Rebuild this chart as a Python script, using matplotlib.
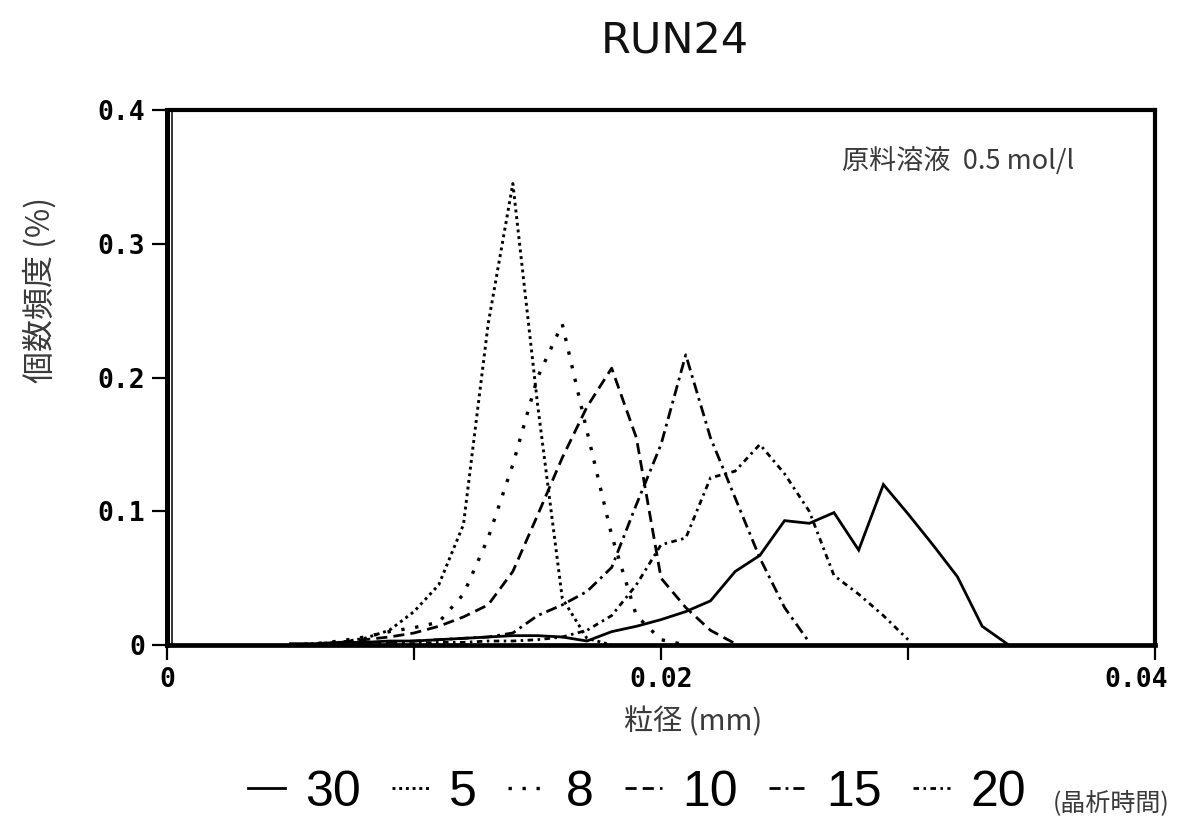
import matplotlib
matplotlib.use("Agg")
import matplotlib.pyplot as plt
import matplotlib.transforms as mtransforms
from matplotlib.lines import Line2D

# particle diameter grid (mm)
diam = [0.005, 0.006, 0.007, 0.008, 0.009, 0.010, 0.011, 0.012, 0.013, 0.014,
        0.015, 0.016, 0.017, 0.018, 0.019, 0.020, 0.021, 0.022, 0.023, 0.024,
        0.025, 0.026, 0.027, 0.028, 0.029, 0.030, 0.031, 0.032, 0.033, 0.034]

# number frequency (%) for each crystallization time
freq_30 = [0.001, 0.001, 0.002, 0.002, 0.003, 0.003, 0.004, 0.005, 0.006, 0.007,
           0.007, 0.006, 0.003, 0.010, 0.014, 0.019, 0.025, 0.033, 0.055, 0.067,
           0.093, 0.091, 0.099, 0.071, 0.120, 0.098, 0.075, 0.051, 0.014, 0.001]
freq_5 = [0.000, 0.001, 0.002, 0.005, 0.011, 0.025, 0.045, 0.090, 0.240, 0.345,
          0.180, 0.035, 0.005, 0.000]
freq_8 = [0.000, 0.001, 0.003, 0.006, 0.010, 0.013, 0.017, 0.038, 0.080, 0.135,
          0.200, 0.240, 0.160, 0.082, 0.022, 0.004, 0.000]
freq_10 = [0.000, 0.000, 0.002, 0.004, 0.006, 0.009, 0.014, 0.021, 0.030, 0.055,
           0.097, 0.140, 0.178, 0.207, 0.155, 0.050, 0.028, 0.011, 0.001]
freq_15 = [0.000, 0.000, 0.000, 0.000, 0.002, 0.003, 0.004, 0.005, 0.006, 0.009,
           0.022, 0.030, 0.040, 0.058, 0.105, 0.150, 0.217, 0.155, 0.110, 0.065,
           0.028, 0.002]
freq_20 = [0.000, 0.000, 0.000, 0.000, 0.000, 0.001, 0.002, 0.002, 0.003, 0.003,
           0.004, 0.006, 0.011, 0.022, 0.045, 0.075, 0.080, 0.125, 0.130, 0.150,
           0.128, 0.100, 0.052, 0.038, 0.022, 0.004]

series_labels = ["30", "5", "8", "10", "15", "20"]
series_values = [freq_30, freq_5, freq_8, freq_10, freq_15, freq_20]
series_styles = [
    ("-", 2.0),
    ((0, (1.0, 1.3)), 2.1),
    ((0, (1.0, 3.2)), 2.4),
    ((0, (4.0, 2.2)), 2.0),
    ((0, (4.0, 1.8, 1.0, 1.8)), 2.0),
    ((0, (2.0, 1.6, 0.9, 1.6)), 2.0),
]

x_ticks = [0, 0.01, 0.02, 0.03, 0.04]
x_ticklabels = ["0", "", "0.02", "", "0.04"]
y_ticks = [0, 0.1, 0.2, 0.3, 0.4]
y_ticklabels = ["0", "0.1", "0.2", "0.3", "0.4"]

cjk = ["Noto Sans CJK JP", "DejaVu Sans"]
hand = "#3a3a3a"

fig = plt.figure(figsize=(11.77, 8.31), dpi=100)
ax = fig.add_axes([0.1419, 0.2238, 0.8395, 0.6438])

lines = []
for vals, (ls, lw) in zip(series_values, series_styles):
    ln, = ax.plot(diam[:len(vals)], vals, color="black", linestyle=ls,
                  linewidth=lw, solid_joinstyle="miter")
    lines.append(ln)

ax.set_xlim(0, 0.04)
ax.set_ylim(0, 0.4)

for side, w in [("top", 3.0), ("right", 3.0), ("bottom", 3.4), ("left", 3.6)]:
    ax.spines[side].set_linewidth(w)
    ax.spines[side].set_color("black")

# thin inner rule next to the y axis
offset = mtransforms.ScaledTranslation(5 / 100, 0, fig.dpi_scale_trans)
ax.add_line(Line2D([0, 0], [0, 1], transform=ax.transAxes + offset,
                   color="black", linewidth=1.1, clip_on=False))

ax.set_xticks(x_ticks)
ax.set_xticklabels(x_ticklabels)
ax.set_yticks(y_ticks)
ax.set_yticklabels(y_ticklabels)
ax.tick_params(direction="out", length=11, width=1.6, color="black",
               labelsize=19, pad=5)
for lab in ax.get_xticklabels() + ax.get_yticklabels():
    lab.set_fontfamily("DejaVu Sans Mono")
    lab.set_fontweight("bold")

# keep the last x label inside the figure edge
last = ax.xaxis.get_major_ticks()[-1].label1
last.set_horizontalalignment("right")
last.set_transform(last.get_transform()
                   + mtransforms.ScaledTranslation(13 / 100, 0, fig.dpi_scale_trans))

fig.text(0.573, 0.950, "RUN24", ha="center", va="center",
         fontsize=31, family="DejaVu Sans", color="#111111")

fig.text(0.034, 0.651, "個数頻度 (%)", rotation=90, ha="center", va="center",
         fontsize=23, family=cjk, color=hand)
fig.text(0.589, 0.131, "粒径 (mm)", ha="center", va="center",
         fontsize=21, family=cjk, color=hand)
ax.text(0.683, 0.905, "原料溶液  0.5 mol/l", transform=ax.transAxes,
        ha="left", va="center", fontsize=19.5, family=cjk, color=hand)

fig.legend(lines, series_labels, loc="center", bbox_to_anchor=(0.541, 0.046),
           ncol=6, frameon=False, handlelength=0.75,
           handletextpad=0.4, columnspacing=0.62, borderpad=0,
           prop={"family": "Liberation Sans", "size": 36})
fig.text(0.944, 0.033, "(晶析時間)", ha="center", va="center",
         fontsize=18, family=cjk, color=hand)

fig.savefig("out.png", dpi=100)
